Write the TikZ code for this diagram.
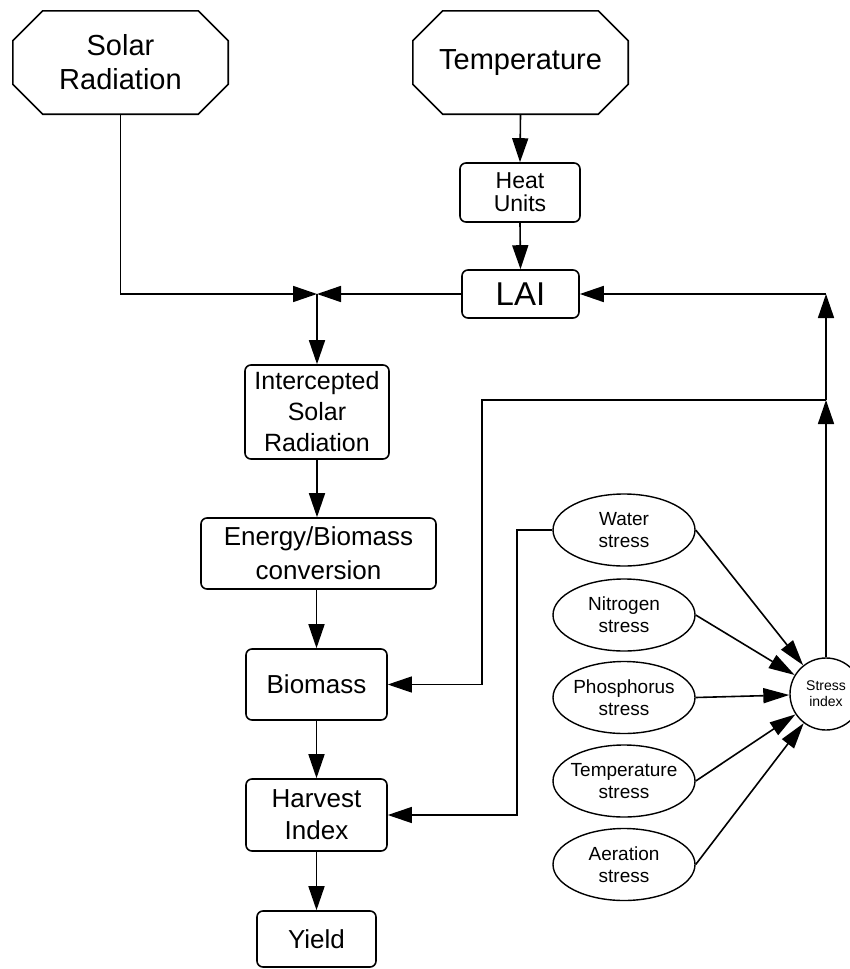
\documentclass[tikz,border=0pt]{standalone}
\usepackage{fontspec}
\setmainfont{Liberation Sans}
\usetikzlibrary{arrows.meta,shapes.geometric}
\newcommand\myoct[1]{%
  \draw[boxline] ([xshift=30pt]#1.north west) -- ([xshift=-30pt]#1.north east)
    -- ([yshift=-30pt]#1.north east) -- ([yshift=30pt]#1.south east)
    -- ([xshift=-30pt]#1.south east) -- ([xshift=30pt]#1.south west)
    -- ([yshift=30pt]#1.south west) -- ([yshift=-30pt]#1.north west) -- cycle;}
\begin{document}
\begin{tikzpicture}[x=1pt,y=-1pt,
  boxline/.style={line width=1.6pt, line join=miter},
  oct/.style={inner sep=0pt, minimum width=215pt, minimum height=103pt, align=center,
              font=\fontsize{29}{34}\selectfont},
  rbox/.style={draw, line width=1.6pt, rounded corners=6pt, inner sep=0pt, align=center},
  ell/.style={draw, ellipse, line width=1.4pt, inner xsep=-20pt, inner ysep=-6pt,
              minimum width=142pt, minimum height=72pt, align=center,
              font=\fontsize{19}{22}\selectfont},
  arr/.style={line width=1.6pt, -{Triangle[length=24pt,width=16pt]}},
  arrthin/.style={line width=1.2pt, -{Triangle[length=24pt,width=16pt]}},
  arrs/.style={line width=1.6pt, -{Triangle[length=26pt,width=15pt]}}
]
\useasboundingbox (0,0) rectangle (850,969);

% top inputs
\node[oct] (solar) at (120.5,62.5) {Solar\\Radiation};
\myoct{solar}
\node[oct] (temp) at (520.5,62.5) {Temperature};
\myoct{temp}

% main chain
\node[rbox, minimum width=120pt, minimum height=59pt, font=\fontsize{23}{23}\selectfont]
  (heat) at (520,192.5) {Heat\\Units};
\node[rbox, minimum width=117pt, minimum height=48pt, font=\fontsize{33}{33}\selectfont]
  (lai) at (520.5,294) {LAI};
\node[rbox, minimum width=144pt, minimum height=94pt, font=\fontsize{25}{31}\selectfont]
  (inter) at (317,412) {Intercepted\\Solar\\Radiation};
\node[rbox, minimum width=235pt, minimum height=71pt, font=\fontsize{26}{34}\selectfont]
  (energy) at (318.5,553.5) {Energy/Biomass\\conversion};
\node[rbox, minimum width=141pt, minimum height=71pt, font=\fontsize{26}{32}\selectfont]
  (biomass) at (316.5,684.5) {Biomass};
\node[rbox, minimum width=141pt, minimum height=72pt, font=\fontsize{26}{32}\selectfont]
  (harvest) at (316.5,815) {Harvest\\Index};
\node[rbox, minimum width=119pt, minimum height=56pt, font=\fontsize{26}{32}\selectfont]
  (yield) at (316.5,939) {Yield};

% stresses
\node[ell] (water) at (624,530) {Water\\stress};
\node[ell] (nitro) at (624,615) {Nitrogen\\stress};
\node[ell] (phos) at (624,697.5) {Phosphorus\\stress};
\node[ell] (tstress) at (624,781) {Temperature\\stress};
\node[ell] (aer) at (624,864.5) {Aeration\\stress};
\node[draw, circle, line width=1.4pt, minimum size=72pt, inner sep=0pt, align=center,
      font=\fontsize{14}{16}\selectfont] (si) at (826,694) {Stress\\index};

% junction points
\coordinate (J) at (317,294);
\coordinate (B) at (826,294);
\coordinate (A) at (826,400);
\coordinate (C) at (482,400);
\coordinate (D) at (517,530);

% connectors
\draw[arr] (solar.south) |- (J);
\draw[arr] (lai.west) -- (J);
\draw[arr] (J) -- (inter.north);
\draw[arr] (temp.south) -- (heat.north);
\draw[arr] (heat.south) -- (lai.north);
\draw[arr] (inter.south) -- (inter.south |- energy.north);
\draw[arr] (biomass.north |- energy.south) -- (biomass.north);
\draw[arr] (biomass.south) -- (harvest.north);
\draw[arr] (harvest.south) -- (yield.north);

\draw[arr] (si.north) -- (A);
\draw[arr] (A) -- (B);
\draw[arr] (B) -- (lai.east);
\draw[arrthin] (A) -- (C) |- (biomass.east);
\draw[arrthin] (water.west) -- (D) |- (harvest.east);

\draw[arrs] (water.east) -- (si);
\draw[arrs] (nitro.east) -- (si);
\draw[arrs] (phos.east) -- (si);
\draw[arrs] (tstress.east) -- (si);
\draw[arrs] (aer.east) -- (si);
\end{tikzpicture}
\end{document}
